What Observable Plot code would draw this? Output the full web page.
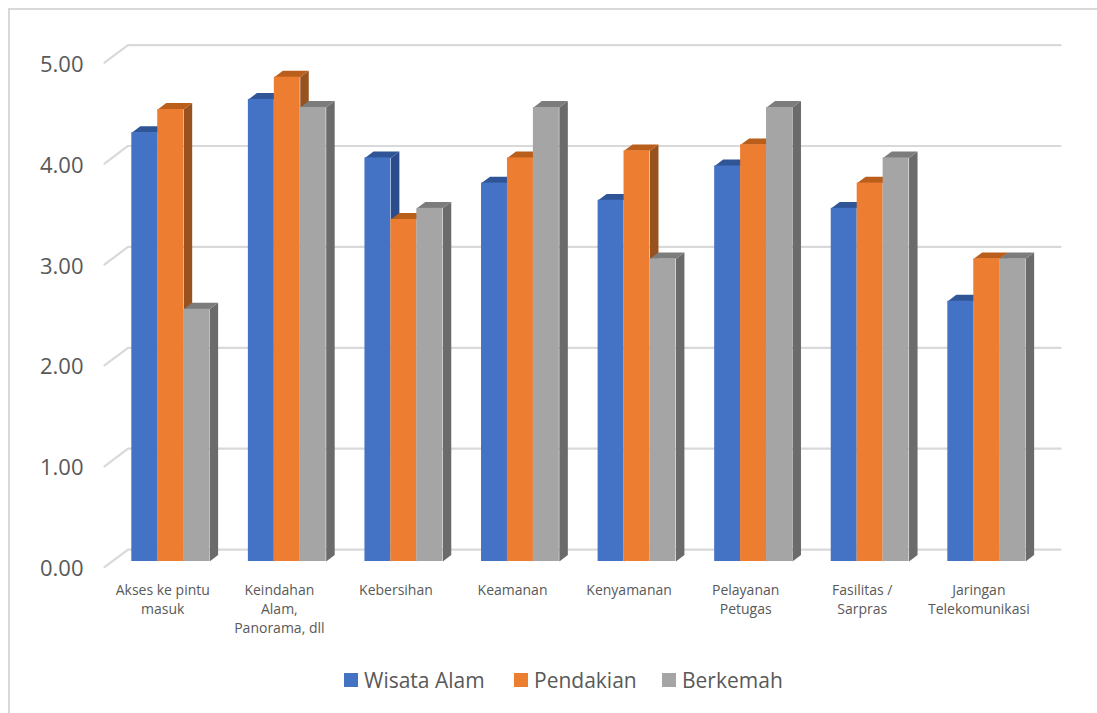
<!DOCTYPE html>
<html>
<head>
<meta charset="utf-8">
<script src="https://cdn.jsdelivr.net/npm/d3@7"></script>
<script src="https://cdn.jsdelivr.net/npm/@observablehq/plot@0.6"></script>
<style>
html,body{margin:0;padding:0;background:#fff;overflow:hidden;width:1097px;height:713px;position:relative}
#frame{position:absolute;left:8px;top:8px;width:1200px;height:800px;border:2px solid #d9d9d9;box-sizing:border-box}
#chart{position:absolute;left:0;top:0}
#legend{position:absolute;left:344px;top:665px;height:32px;font:21px "Open Sans",sans-serif;color:#595959;white-space:nowrap}
#legend span.s{position:absolute;width:14px;height:14px;top:8px}
#legend span.t{position:absolute;top:0;line-height:30px}
</style>
</head>
<body>
<div id="frame"></div>
<div id="chart"></div>
<div id="legend"></div>
<script>
const categories = ["Akses ke pintu\nmasuk","Keindahan\nAlam,\nPanorama, dll","Kebersihan","Keamanan","Kenyamanan","Pelayanan\nPetugas","Fasilitas /\nSarpras","Jaringan\nTelekomunikasi"];
const wisataAlam = [4.25,4.58,4.00,3.75,3.58,3.92,3.50,2.58];
const pendakian  = [4.48,4.80,3.39,4.00,4.07,4.13,3.75,3.00];
const berkemah   = [2.50,4.50,3.50,4.50,3.00,4.50,4.00,3.00];
const tickValues = [0,1,2,3,4,5];
const seriesNames = ["Wisata Alam","Pendakian","Berkemah"];
const seriesValues = [wisataAlam,pendakian,berkemah];
const frontColors = ["#4472C4","#ED7D31","#A5A5A5"];
const topColors   = ["#2F5597","#BA5E1C","#7C7C7C"];
const sideColors  = ["#2B4C8A","#97521F","#6B6B6B"];

// oblique depth of the chart's wall, floor and bars, in data units
const wallDx = 0.2016, wallDy = 0.1745;
const baseDx = 0.0645, baseDy = 0.0565;
const barDx = 0.0729, barDy = 0.0634;
const barStart = 0.2342, barWidth = 0.2225;

const grid = tickValues.flatMap(t => [
  {t, x:0, y:t},
  {t, x:wallDx, y:t+wallDy},
  {t, x:categories.length+wallDx, y:t+wallDy}
]);

const marks = [
  Plot.line(grid,{x:"x",y:"y",z:"t",stroke:"#d9d9d9",strokeWidth:2.2,curve:"linear"})
];

seriesValues.forEach((vals,s)=>{
  const bars = vals.map((v,i)=>{
    const x1 = i+barStart+s*barWidth, x2 = x1+barWidth;
    return {i,x1,x2,y1:baseDy,y2:v+baseDy};
  });
  const side = bars.flatMap(b=>[
    {i:b.i,x:b.x2,y:b.y2},
    {i:b.i,x:b.x2+barDx,y:b.y2+barDy},
    {i:b.i,x:b.x2+barDx,y:b.y1+barDy},
    {i:b.i,x:b.x2,y:b.y1}
  ]);
  const top = bars.flatMap(b=>[
    {i:b.i,x:b.x1,y:b.y2},
    {i:b.i,x:b.x1+barDx,y:b.y2+barDy},
    {i:b.i,x:b.x2+barDx,y:b.y2+barDy},
    {i:b.i,x:b.x2,y:b.y2}
  ]);
  marks.push(
    Plot.line(side,{x:"x",y:"y",z:"i",fill:sideColors[s],stroke:"none",curve:"linear"}),
    Plot.line(top,{x:"x",y:"y",z:"i",fill:topColors[s],stroke:"none",curve:"linear"}),
    Plot.rect(bars,{x1:"x1",x2:"x2",y1:"y1",y2:"y2",fill:frontColors[s]})
  );
});

marks.push(
  Plot.axisY(tickValues,{tickSize:0,tickPadding:21,fontSize:22,dy:2,label:null,tickFormat:d3.format(".2f"),anchor:"left"}),
  Plot.text(categories,{x:(d,i)=>i+0.5,y:()=>0,text:d=>d,dy:14,lineAnchor:"top",textAnchor:"middle",fontSize:14,lineHeight:1.36})
);

const plot = Plot.plot({
  width:1097,height:650,
  marginLeft:104,marginRight:60.4,marginTop:62.2,marginBottom:83.3,
  x:{domain:[0,categories.length],axis:null},
  y:{domain:[0,5],axis:null},
  style:{fontFamily:'"Open Sans",sans-serif',color:"#595959",background:"transparent",overflow:"visible"},
  marks
});
document.getElementById("chart").append(plot);

const legendX = [0,170,318];
const legend = document.getElementById("legend");
seriesNames.forEach((n,s)=>{
  const sw=document.createElement("span");sw.className="s";sw.style.left=legendX[s]+"px";sw.style.background=frontColors[s];
  const t=document.createElement("span");t.className="t";t.style.left=(legendX[s]+20)+"px";t.textContent=n;
  legend.append(sw,t);
});
</script>
</body>
</html>
